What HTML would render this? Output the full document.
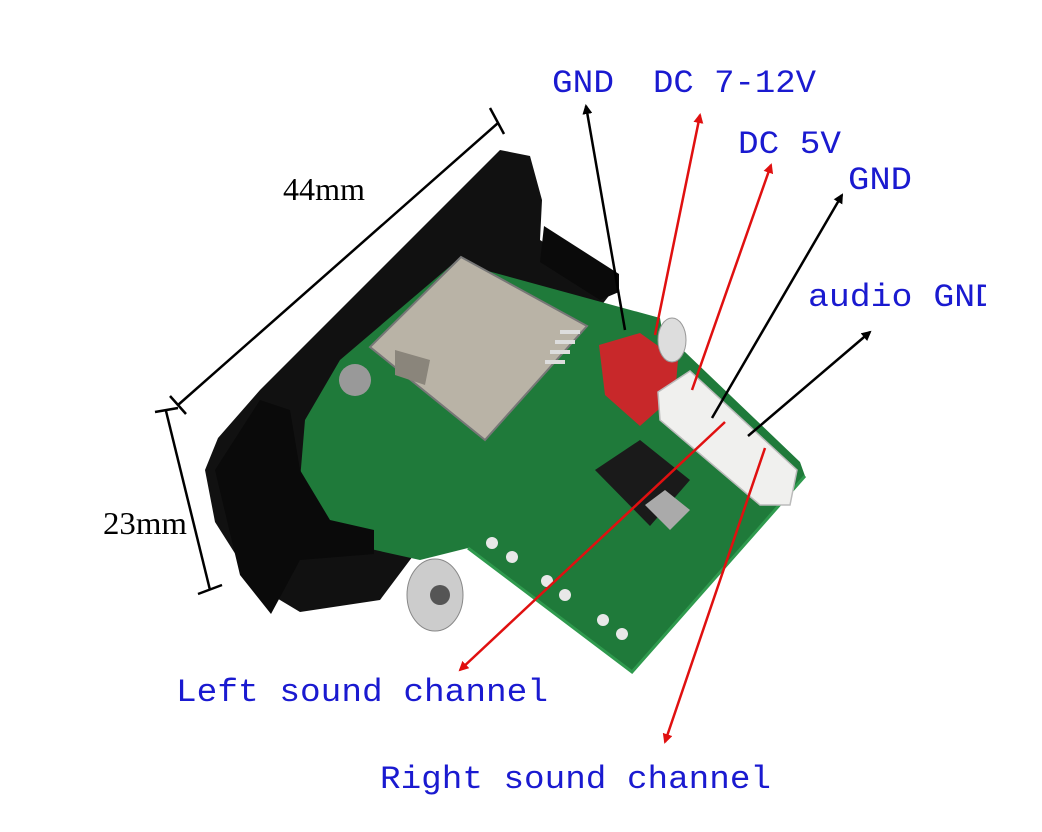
<!DOCTYPE html>
<html><head><meta charset="utf-8"><style>
html,body{margin:0;padding:0;background:#fff;}
svg{display:block}
.lbl{font-family:"Liberation Mono","Liberation Serif",serif;fill:#1a1ad0;font-size:32px;}
.dim{font-family:"Liberation Serif",serif;fill:#000;font-size:32px;}
</style></head><body>
<svg width="1042" height="832" viewBox="0 0 1042 832" xmlns="http://www.w3.org/2000/svg">
<defs>
<marker id="ab" markerWidth="10" markerHeight="10" refX="8" refY="5" orient="auto" markerUnits="userSpaceOnUse"><path d="M0,0 L10,5 L0,10 z" fill="#000"/></marker>
<marker id="ar" markerWidth="10" markerHeight="10" refX="8" refY="5" orient="auto" markerUnits="userSpaceOnUse"><path d="M0,0 L10,5 L0,10 z" fill="#e01010"/></marker>
<clipPath id="cl"><rect x="0" y="0" width="986" height="832"/></clipPath>
</defs>
<!-- bezel -->
<path d="M500,150 L530,156 L542,200 L540,240 L615,288 L590,320 L380,600 L300,612 L255,585 L215,522 L205,470 L218,438 L260,390 Z" fill="#111"/>
<!-- board -->
<path d="M455,262 L660,318 L662,330 L800,462 L805,476 L632,672 L468,548 L420,560 L330,540 L300,480 L305,420 L340,360 Z" fill="#1f7a3a"/>
<path d="M468,548 L632,672 L805,476" fill="none" stroke="#2f9a4e" stroke-width="3"/>
<path d="M544,226 L619,274 L619,292 L600,300 L540,262 Z" fill="#0a0a0a"/>
<path d="M215,470 L260,400 L290,410 L300,470 L330,520 L374,530 L374,554 L300,560 L271,614 L240,575 Z" fill="#0a0a0a"/>
<path d="M461,257 L587,326 L485,440 L370,347 Z" fill="#b9b3a6" stroke="#777" stroke-width="2"/>
<path d="M395,350 L430,360 L425,385 L395,375 Z" fill="#8a857b"/>
<g fill="#ddd"><rect x="560" y="330" width="20" height="4"/><rect x="555" y="340" width="20" height="4"/><rect x="550" y="350" width="20" height="4"/><rect x="545" y="360" width="20" height="4"/></g>
<circle cx="355" cy="380" r="16" fill="#999"/>
<path d="M599,345 L640,333 L678,360 L675,395 L640,426 L605,395 Z" fill="#c8282a"/>
<path d="M658,392 L690,371 L797,470 L790,505 L760,505 L660,420 Z" fill="#f0f0ee" stroke="#bbb" stroke-width="1.5"/>
<path d="M595,470 L640,440 L690,480 L650,526 Z" fill="#1a1a1a"/>
<path d="M645,505 L665,490 L690,510 L670,530 Z" fill="#aaa"/>
<ellipse cx="672" cy="340" rx="14" ry="22" fill="#ddd" stroke="#999"/>
<g fill="#e8e8e8"><circle cx="492" cy="543" r="6"/><circle cx="512" cy="557" r="6"/><circle cx="547" cy="581" r="6"/><circle cx="565" cy="595" r="6"/><circle cx="603" cy="620" r="6"/><circle cx="622" cy="634" r="6"/></g>
<ellipse cx="435" cy="595" rx="28" ry="36" fill="#ccc" stroke="#888"/>
<circle cx="440" cy="595" r="10" fill="#555"/>
<!-- dimension lines -->
<line x1="178" y1="405" x2="498" y2="123" stroke="#000" stroke-width="2.5"/>
<line x1="170" y1="396" x2="186" y2="414" stroke="#000" stroke-width="2.5"/>
<line x1="490" y1="108" x2="504" y2="134" stroke="#000" stroke-width="2.5"/>
<line x1="166" y1="411" x2="210" y2="590" stroke="#000" stroke-width="2.5"/>
<line x1="155" y1="412" x2="178" y2="408" stroke="#000" stroke-width="2.5"/>
<line x1="198" y1="594" x2="222" y2="585" stroke="#000" stroke-width="2.5"/>
<text class="dim" x="283" y="200" textLength="82" lengthAdjust="spacingAndGlyphs">44mm</text>
<text class="dim" x="103" y="534" textLength="84" lengthAdjust="spacingAndGlyphs">23mm</text>
<!-- arrows -->
<line x1="625" y1="330" x2="586" y2="106" stroke="#000" stroke-width="2.5" marker-end="url(#ab)"/>
<line x1="655" y1="335" x2="700" y2="115" stroke="#e01010" stroke-width="2.5" marker-end="url(#ar)"/>
<line x1="692" y1="390" x2="771" y2="165" stroke="#e01010" stroke-width="2.5" marker-end="url(#ar)"/>
<line x1="712" y1="418" x2="842" y2="195" stroke="#000" stroke-width="2.5" marker-end="url(#ab)"/>
<line x1="748" y1="436" x2="870" y2="332" stroke="#000" stroke-width="2.5" marker-end="url(#ab)"/>
<line x1="725" y1="422" x2="460" y2="670" stroke="#e01010" stroke-width="2.5" marker-end="url(#ar)"/>
<line x1="765" y1="448" x2="665" y2="742" stroke="#e01010" stroke-width="2.5" marker-end="url(#ar)"/>
<!-- labels -->
<text class="lbl" x="552" y="92" textLength="62" lengthAdjust="spacingAndGlyphs">GND</text>
<text class="lbl" x="653" y="92" textLength="163" lengthAdjust="spacingAndGlyphs">DC 7-12V</text>
<text class="lbl" x="738" y="153" textLength="103" lengthAdjust="spacingAndGlyphs">DC 5V</text>
<text class="lbl" x="848" y="189" textLength="64" lengthAdjust="spacingAndGlyphs">GND</text>
<g clip-path="url(#cl)"><text class="lbl" x="808" y="306" textLength="188" lengthAdjust="spacingAndGlyphs">audio GND</text></g>
<text class="lbl" x="176" y="701" textLength="372" lengthAdjust="spacingAndGlyphs">Left sound channel</text>
<text class="lbl" x="380" y="788" textLength="391" lengthAdjust="spacingAndGlyphs">Right sound channel</text>
</svg>
</body></html>
